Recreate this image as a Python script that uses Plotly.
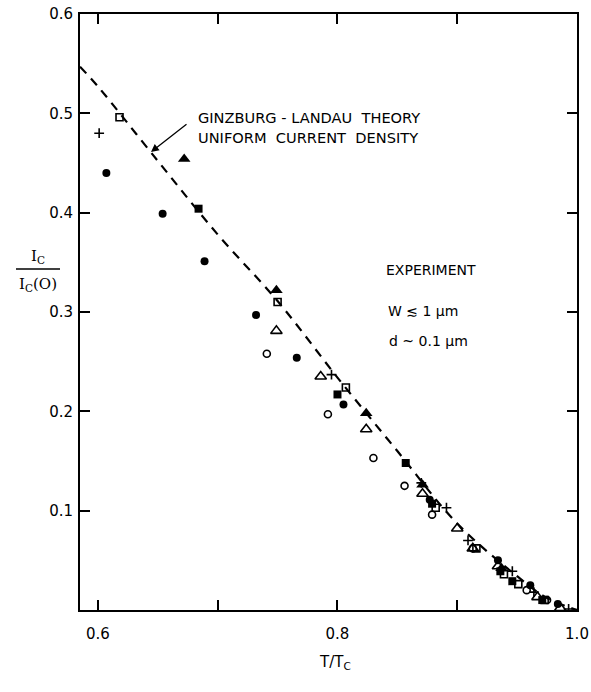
import plotly.graph_objects as go

# Theory curve (Ginzburg-Landau, uniform current density)
theory_t = [0.585, 0.6, 0.65, 0.7, 0.75, 0.8, 0.85, 0.9, 0.95, 0.975, 1.0]
theory_y = [0.547, 0.527, 0.452, 0.378, 0.311, 0.234, 0.160, 0.087, 0.034, 0.012, 0.0]

# Experimental points
fc_t = [0.607, 0.654, 0.689, 0.732, 0.766, 0.805, 0.877, 0.934, 0.961, 0.984]
fc_y = [0.440, 0.399, 0.351, 0.297, 0.254, 0.207, 0.111, 0.050, 0.025, 0.006]

ft_t = [0.672, 0.749, 0.824, 0.871, 0.937]
ft_y = [0.454, 0.322, 0.198, 0.126, 0.042]

fs_t = [0.684, 0.800, 0.857, 0.879, 0.936, 0.946, 0.971]
fs_y = [0.404, 0.217, 0.148, 0.107, 0.039, 0.029, 0.010]

os_t = [0.618, 0.750, 0.807, 0.882, 0.916, 0.939, 0.951, 0.973]
os_y = [0.496, 0.310, 0.224, 0.103, 0.062, 0.036, 0.026, 0.010]

ot_t = [0.749, 0.786, 0.824, 0.871, 0.900, 0.913, 0.934, 0.967, 0.986]
ot_y = [0.281, 0.235, 0.182, 0.117, 0.082, 0.062, 0.044, 0.013, 0.002]

oc_t = [0.741, 0.792, 0.830, 0.856, 0.879, 0.913, 0.958, 0.975]
oc_y = [0.258, 0.197, 0.153, 0.125, 0.096, 0.062, 0.020, 0.010]

pl_t = [0.601, 0.795, 0.870, 0.891, 0.909, 0.946, 0.964, 0.993]
pl_y = [0.480, 0.237, 0.128, 0.103, 0.070, 0.039, 0.018, 0.001]

x_ticks = [0.6, 0.7, 0.8, 0.9, 1.0]
x_ticktext = ["0.6", "", "0.8", "", "1.0"]
y_ticks = [0.1, 0.2, 0.3, 0.4, 0.5, 0.6]
y_ticktext = ["0.1", "0.2", "0.3", "0.4", "0.5", "0.6"]

FONT = "DejaVu Sans"
W, H = 591, 692
L, R, T, B = 80, 577, 14, 610

fig = go.Figure()
fig.add_trace(go.Scatter(x=theory_t, y=theory_y, mode="lines",
                         line=dict(color="black", width=2.2, dash="9px,7px", shape="spline"),
                         hoverinfo="skip"))

def pts(t, y, symbol, size, lw=1.6):
    fig.add_trace(go.Scatter(x=t, y=y, mode="markers",
                             marker=dict(symbol=symbol, size=size, color="black",
                                         line=dict(color="black", width=lw))))

pts(fc_t, fc_y, "circle", 8, 0)
pts(ft_t, ft_y, "triangle-up", 11, 0)
pts(fs_t, fs_y, "square", 8, 0)
pts(os_t, os_y, "square-open", 7)
pts(ot_t, ot_y, "triangle-up-open", 10)
pts(oc_t, oc_y, "circle-open", 7)
pts(pl_t, pl_y, "cross-thin-open", 7, 1.6)

axis_common = dict(showline=True, linecolor="black", linewidth=2, mirror="ticks",
                   ticks="inside", ticklen=10, tickwidth=1.5, tickcolor="black",
                   showgrid=False, zeroline=False, automargin=False,
                   tickfont=dict(family=FONT, size=15, color="black"))

fig.update_xaxes(range=[0.585, 1.0], tickvals=x_ticks, ticktext=x_ticktext,
                 ticklabelstandoff=9, **axis_common)
fig.update_yaxes(range=[0, 0.6], tickvals=y_ticks, ticktext=y_ticktext,
                 ticklabelstandoff=2, **axis_common)

def dx(px):
    return (px - L) / (R - L)

def dy(py):
    return (B - py) / (B - T)

def ann(xpx, ypx, text, size=14, xanchor="left", fam=FONT):
    fig.add_annotation(x=dx(xpx), y=dy(ypx), xref="paper", yref="paper", text=text,
                       showarrow=False, xanchor=xanchor, yanchor="middle",
                       font=dict(family=fam, size=size, color="black"))

ann(196, 118, "GINZBURG - LANDAU  THEORY", 14.6)
ann(196, 137, "UNIFORM  CURRENT  DENSITY", 14.6)
fig.add_annotation(x=dx(151), y=dy(152), xref="paper", yref="paper",
                   ax=37, ay=-29, axref="pixel", ayref="pixel",
                   text="", showarrow=True, arrowhead=2, arrowsize=1.2, arrowwidth=1.3,
                   arrowcolor="black")
ann(431, 270, "EXPERIMENT", 14, "center")
ann(423, 311, "W ≲ 1 μm", 14, "center")
ann(428, 341, "d ~ 0.1 μm", 14, "center")

# y-axis title as a fraction
ann(38, 256, "I<sub>C</sub>", 15, "center", "DejaVu Serif")
ann(38, 284, "I<sub>C</sub>(O)", 15, "center", "DejaVu Serif")
fig.add_shape(type="line", xref="paper", yref="paper",
              x0=dx(16), x1=dx(60), y0=dy(269), y1=dy(269),
              line=dict(color="black", width=1.3))
# x-axis title
ann(335, 662, "T/T<sub>C</sub>", 15, "center")

fig.update_layout(width=W, height=H, showlegend=False,
                  margin=dict(l=L, r=W - R, t=T, b=H - B, autoexpand=False),
                  plot_bgcolor="white", paper_bgcolor="white")

fig.write_html("out.html")
